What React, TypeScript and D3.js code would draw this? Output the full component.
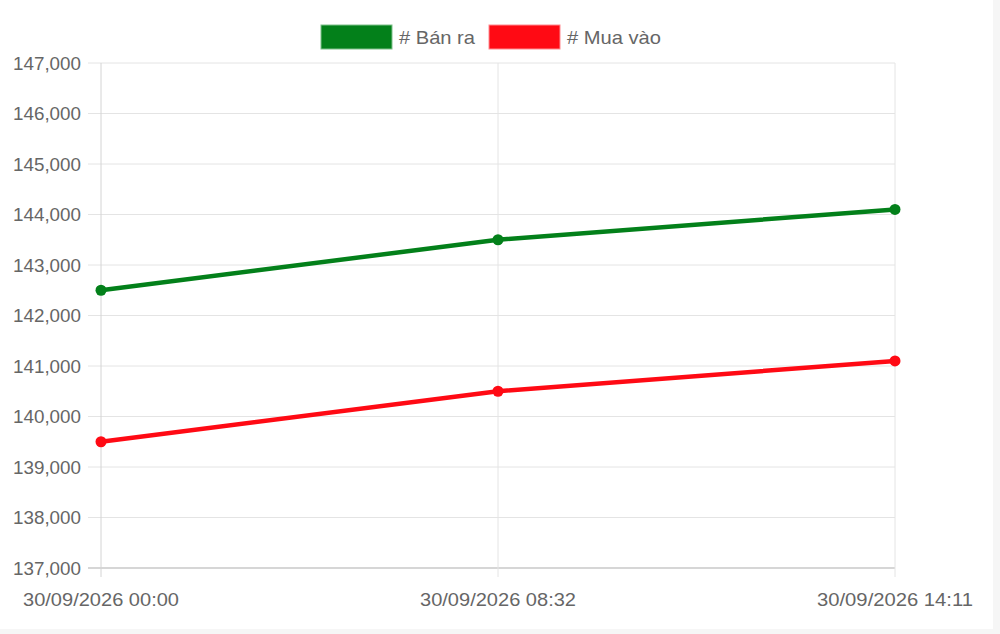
import React, { useEffect, useRef } from "react";
import * as d3 from "d3";

const categories = ["30/09/2026 00:00", "30/09/2026 08:32", "30/09/2026 14:11"];
const seriesNames = ["# Bán ra", "# Mua vào"];
const banRa = [142500, 143500, 144100];
const muaVao = [139500, 140500, 141100];
const seriesColors = ["#03801a", "#ff0a14"];
const yTicks = [137000, 138000, 139000, 140000, 141000, 142000, 143000, 144000, 145000, 146000, 147000];

const W = 1000;
const H = 634;
const FONT = "'Liberation Sans', Arial, Helvetica, sans-serif";

export default function App() {
  const ref = useRef<SVGSVGElement>(null);

  useEffect(() => {
    const svg = d3.select(ref.current);
    svg.selectAll("*").remove();

    svg.append("rect").attr("width", W).attr("height", H).attr("fill", "#f6f6f6");
    svg.append("rect").attr("width", 993).attr("height", 629).attr("fill", "#ffffff");

    const left = 101, right = 895, top = 63, bottom = 568;
    const x = d3.scalePoint<string>().domain(categories).range([left, right]);
    const y = d3.scaleLinear().domain([137000, 147000]).range([bottom, top]);
    const fmt = d3.format(",");

    const g = svg.append("g");

    // horizontal grid
    g.selectAll("line.hg")
      .data(yTicks)
      .join("line")
      .attr("x1", left - 13)
      .attr("x2", right)
      .attr("y1", (d) => y(d))
      .attr("y2", (d) => y(d))
      .attr("stroke", (d) => (d === 137000 ? "#c8c8c8" : "#e4e4e4"))
      .attr("stroke-width", (d) => (d === 137000 ? 1.5 : 1));

    // vertical grid
    g.selectAll("line.vg")
      .data(categories)
      .join("line")
      .attr("x1", (d) => x(d)!)
      .attr("x2", (d) => x(d)!)
      .attr("y1", top)
      .attr("y2", bottom + 9)
      .attr("stroke", (d, i) => (i === 0 ? "#d4d4d4" : "#e4e4e4"))
      .attr("stroke-width", 1);

    // y labels
    g.selectAll("text.yl")
      .data(yTicks)
      .join("text")
      .attr("x", left - 20)
      .attr("y", (d) => y(d) + 6.5)
      .attr("text-anchor", "end")
      .attr("font-family", FONT)
      .attr("font-size", 18.5)
      .attr("fill", "#666")
      .attr("textLength", 68)
      .attr("lengthAdjust", "spacingAndGlyphs")
      .text((d) => fmt(d));

    // x labels
    g.selectAll("text.xl")
      .data(categories)
      .join("text")
      .attr("x", (d) => x(d)!)
      .attr("y", 606)
      .attr("text-anchor", "middle")
      .attr("font-family", FONT)
      .attr("font-size", 18.5)
      .attr("fill", "#666")
      .attr("textLength", 156)
      .attr("lengthAdjust", "spacingAndGlyphs")
      .text((d) => d);

    const series = [banRa, muaVao];
    const line = d3
      .line<number>()
      .x((_, i) => x(categories[i])!)
      .y((d) => y(d));

    series.forEach((vals, si) => {
      g.append("path")
        .attr("d", line(vals)!)
        .attr("fill", "none")
        .attr("stroke", seriesColors[si])
        .attr("stroke-width", 4.5)
        .attr("stroke-linejoin", "round");
      g.selectAll(null)
        .data(vals)
        .join("circle")
        .attr("cx", (_, i) => x(categories[i])!)
        .attr("cy", (d) => y(d))
        .attr("r", 5.5)
        .attr("fill", seriesColors[si]);
    });

    // legend
    const legend = svg.append("g");
    const boxW = 71, boxH = 24, gapText = 7, gapItem = 14;
    const textWidths = [76, 94];
    const items = seriesNames.map((name, i) => {
      const gi = legend.append("g");
      gi.append("rect")
        .attr("width", boxW)
        .attr("height", boxH)
        .attr("y", 25)
        .attr("fill", seriesColors[i])
        .attr("stroke", i === 0 ? "#7ec08a" : "#ff8a8f")
        .attr("stroke-width", 1);
      gi.append("text")
        .attr("x", boxW + gapText)
        .attr("y", 44)
        .attr("font-family", FONT)
        .attr("font-size", 18.5)
        .attr("fill", "#666")
        .attr("textLength", textWidths[i])
        .attr("lengthAdjust", "spacingAndGlyphs")
        .text(name);
      return { gi, w: boxW + gapText + textWidths[i] };
    });
    const total = items.reduce((s, it) => s + it.w, 0) + gapItem * (items.length - 1);
    let cx = 491 - total / 2;
    items.forEach((it) => {
      it.gi.attr("transform", `translate(${cx},0)`);
      cx += it.w + gapItem;
    });
  }, []);

  return (
    <svg
      ref={ref}
      width={W}
      height={H}
      style={{ position: "absolute", left: 0, top: 0, display: "block" }}
    />
  );
}
